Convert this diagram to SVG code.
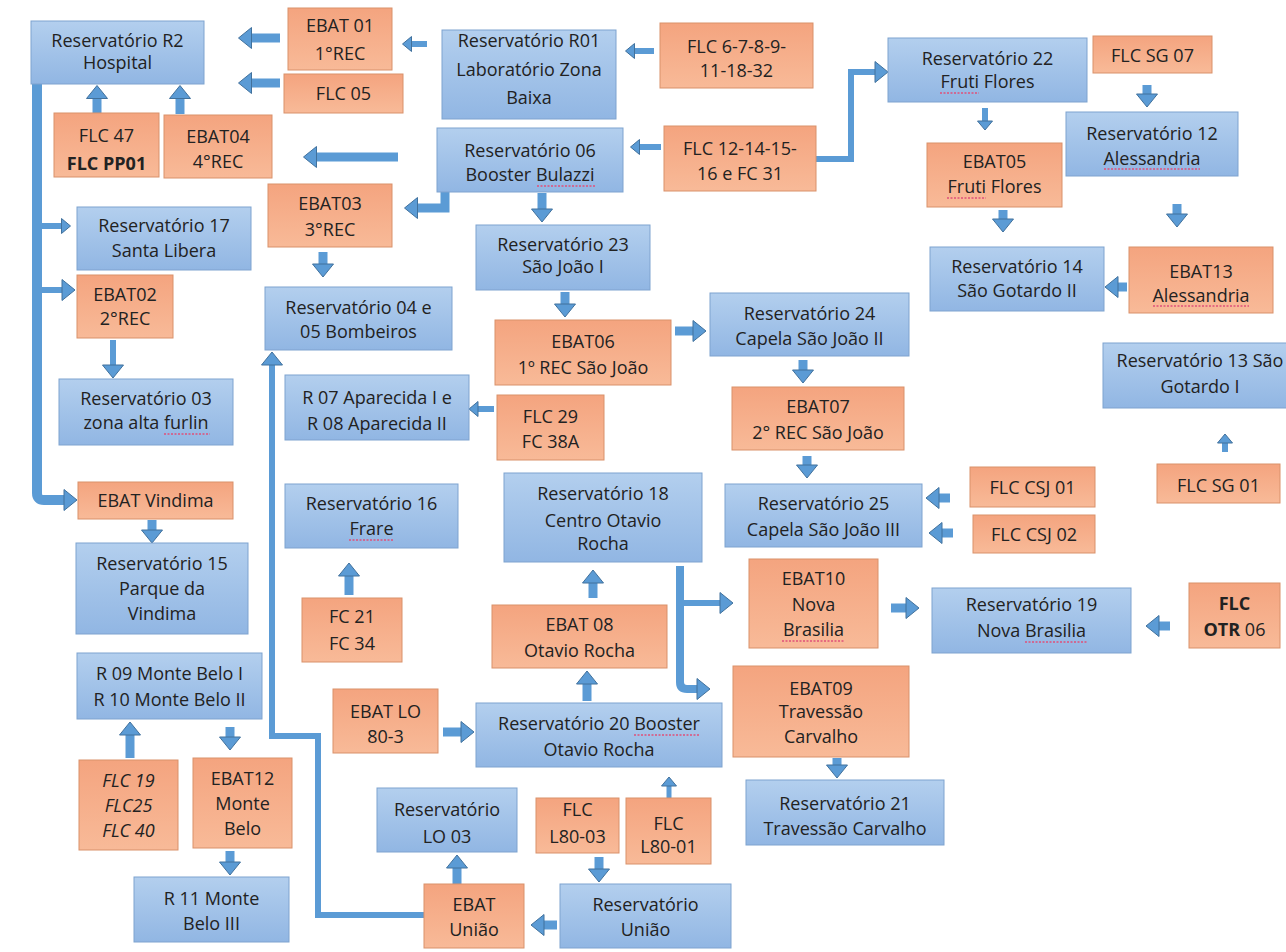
<svg xmlns="http://www.w3.org/2000/svg" width="1286" height="952" viewBox="0 0 1286 952">
<defs>
<linearGradient id="gb" x1="0" y1="0" x2="0" y2="1"><stop offset="0" stop-color="#B3CFEE"/><stop offset="1" stop-color="#91B6E3"/></linearGradient>
<linearGradient id="go" x1="0" y1="0" x2="0" y2="1"><stop offset="0" stop-color="#F4A47F"/><stop offset="1" stop-color="#F8BA98"/></linearGradient>
<marker id="h" markerUnits="userSpaceOnUse" viewBox="-1 -1 15 23" markerWidth="15" markerHeight="23" refX="0.5" refY="10.5" orient="auto"><path d="M0,0 L13,10.5 L0,21 Z" fill="#5B9BD5" stroke="#41719C" stroke-width="1"/></marker>
<marker id="hs" markerUnits="userSpaceOnUse" viewBox="-1 -1 11 17" markerWidth="11" markerHeight="17" refX="0.5" refY="7.5" orient="auto"><path d="M0,0 L9,7.5 L0,15 Z" fill="#5B9BD5" stroke="#41719C" stroke-width="1"/></marker>
</defs>
<style>
.b{fill:url(#gb);stroke:#7EA3CF;stroke-width:1}
.o{fill:url(#go);stroke:#D9916B;stroke-width:1}
text{font-family:"Open Sans","Noto Sans",sans-serif;font-size:18px;fill:#222;text-anchor:middle}
.bd{font-weight:bold}
.it{font-style:italic}
.sp{fill:none;stroke:#E0507A;stroke-width:1.3;stroke-dasharray:2 1.5}
#connectors path{fill:none;stroke:#5B9BD5;stroke-width:9;marker-end:url(#h)}
#connectors path.s{stroke-width:6;marker-end:url(#hs)}
#connectors path.m{stroke-width:6}
</style>
<rect width="1286" height="952" fill="#fff"/>
<g id="connectors">
<path d="M280,38 H251"/>
<path d="M280,83 H251"/>
<path d="M97,113 V98"/>
<path d="M180,114 V98"/>
<path class="s" d="M427,44 H411"/>
<path class="s" d="M654,51 H634"/>
<path class="s" d="M661,147 H639"/>
<path d="M398,157 H316"/>
<path d="M445,192 V208 H417"/>
<path d="M542,193 V209.5"/>
<path d="M565,292 V304.5"/>
<path class="m" d="M816,159 H851 V72 H875.5"/>
<path class="s" d="M985,108 V121.5"/>
<path d="M1147,85 V94.5"/>
<path d="M1003,210 V219.5"/>
<path d="M1177,204 V214.5"/>
<path d="M1127,287 H1117.5"/>
<path class="s" d="M1225,452 V442.5"/>
<path d="M323,252 V264.5"/>
<path style="stroke-width:10" d="M37,84 V493 Q37,500 44,500 H64.5"/>
<path class="s" d="M42,226 H62"/>
<path class="m" d="M42,290 H62.5"/>
<path class="m" d="M113,340 V365.5"/>
<path d="M152,520 V530.5"/>
<path class="m" d="M424,915 H318 V736 H272 V364.5"/>
<path d="M349,595 V575.5"/>
<path class="s" d="M494,409 H477.5"/>
<path d="M675,331 H693.5"/>
<path d="M803,360 V370.5"/>
<path d="M807,456 V465.5"/>
<path d="M950,498 H938.5"/>
<path d="M953,533 H941.5"/>
<path style="stroke-width:8" d="M680,566 V682 Q680,689 687,689 H697.5"/>
<path class="m" d="M684,603 H720.5"/>
<path d="M891,608 H906.5"/>
<path d="M1170,626 H1158.5"/>
<path d="M593,598 V582.5"/>
<path d="M587,701 V683.5"/>
<path d="M443,732 H461.5"/>
<path class="s" style="stroke-width:5" d="M669,798 V785.5"/>
<path d="M599,857 V869.5"/>
<path d="M457,884 V867.5"/>
<path d="M557,925 H543.5"/>
<path d="M130,758 V734.5"/>
<path d="M230,727 V737.5"/>
<path d="M230,851 V862.5"/>
<path d="M837,758 V765.5"/>
</g>

<g id="r2"><rect class="b" x="31" y="21" width="173" height="63"/><text x="117.5" y="47">Reservatório R2</text><text x="117.5" y="69">Hospital</text></g>
<g id="r01"><rect class="b" x="442" y="30" width="174" height="89"/><text x="529" y="47">Reservatório R01</text><text x="529" y="76">Laboratório Zona</text><text x="529" y="104">Baixa</text></g>
<g id="r06"><rect class="b" x="437" y="128" width="186" height="64"/><text x="530" y="157">Reservatório 06</text><text x="530" y="181">Booster Bulazzi</text><path class="sp" d="M537,186 H595"/></g>
<g id="r17"><rect class="b" x="77" y="207" width="174" height="63"/><text x="164" y="232">Reservatório 17</text><text x="164" y="257">Santa Libera</text></g>
<g id="r23"><rect class="b" x="476" y="225" width="174" height="65"/><text x="563" y="251">Reservatório 23</text><text x="563" y="273">São João I</text></g>
<g id="r0405"><rect class="b" x="265" y="287" width="187" height="63"/><text x="358.5" y="314">Reservatório 04 e</text><text x="358.5" y="338">05 Bombeiros</text></g>
<g id="r03"><rect class="b" x="59" y="379" width="174" height="66"/><text x="146" y="405">Reservatório 03</text><text x="146" y="429">zona alta furlin</text><path class="sp" d="M164,434 H210"/></g>
<g id="r0708"><rect class="b" x="285" y="375" width="184" height="65"/><text x="377" y="404">R 07 Aparecida I e</text><text x="377" y="430">R 08 Aparecida II</text></g>
<g id="r22"><rect class="b" x="888" y="38" width="199" height="64"/><text x="987.5" y="65">Reservatório 22</text><text x="987.5" y="88">Fruti Flores</text><path class="sp" d="M940,93 H979"/></g>
<g id="r12"><rect class="b" x="1066" y="112" width="172" height="64"/><text x="1152" y="140">Reservatório 12</text><text x="1152" y="165">Alessandria</text><path class="sp" d="M1104,169 H1200"/></g>
<g id="r14"><rect class="b" x="930" y="247" width="174" height="64"/><text x="1017" y="273">Reservatório 14</text><text x="1017" y="297">São Gotardo II</text></g>
<g id="r24"><rect class="b" x="710" y="293" width="199" height="63"/><text x="809.5" y="320">Reservatório 24</text><text x="809.5" y="345">Capela São João II</text></g>
<g id="r13"><rect class="b" x="1103" y="343" width="195" height="65"/><text x="1200" y="367">Reservatório 13 São</text><text x="1200" y="393">Gotardo I</text></g>
<g id="r25"><rect class="b" x="725" y="484" width="197" height="63"/><text x="823.5" y="510">Reservatório 25</text><text x="823.5" y="536">Capela São João III</text></g>
<g id="r18"><rect class="b" x="504" y="473" width="198" height="89"/><text x="603" y="500">Reservatório 18</text><text x="603" y="527">Centro Otavio</text><text x="603" y="550">Rocha</text></g>
<g id="r16"><rect class="b" x="285" y="484" width="173" height="64"/><text x="371.5" y="510">Reservatório 16</text><text x="371.5" y="535">Frare</text><path class="sp" d="M349,540 H394"/></g>
<g id="r15"><rect class="b" x="76" y="543" width="172" height="91"/><text x="162" y="570">Reservatório 15</text><text x="162" y="595">Parque da</text><text x="162" y="620">Vindima</text></g>
<g id="r19"><rect class="b" x="932" y="588" width="199" height="65"/><text x="1031.5" y="611">Reservatório 19</text><text x="1031.5" y="637">Nova Brasilia</text><path class="sp" d="M1025,642 H1088"/></g>
<g id="r0910"><rect class="b" x="77" y="653" width="185" height="66"/><text x="169.5" y="680">R 09 Monte Belo I</text><text x="169.5" y="706">R 10 Monte Belo II</text></g>
<g id="r20"><rect class="b" x="476" y="703" width="246" height="64"/><text x="599" y="730">Reservatório 20 Booster</text><text x="599" y="756">Otavio Rocha</text><path class="sp" d="M634,735 H700"/></g>
<g id="r21"><rect class="b" x="746" y="780" width="198" height="65"/><text x="845" y="810">Reservatório 21</text><text x="845" y="835">Travessão Carvalho</text></g>
<g id="rlo03"><rect class="b" x="377" y="788" width="140" height="64"/><text x="447" y="816">Reservatório</text><text x="447" y="843">LO 03</text></g>
<g id="r11"><rect class="b" x="134" y="877" width="155" height="65"/><text x="211.5" y="905">R 11 Monte</text><text x="211.5" y="930">Belo III</text></g>
<g id="runiao"><rect class="b" x="560" y="884" width="171" height="64"/><text x="645.5" y="911">Reservatório</text><text x="645.5" y="936">União</text></g>

<g id="ebat01"><rect class="o" x="288" y="8" width="104" height="62"/><text x="340" y="32">EBAT 01</text><text x="340" y="60">1°REC</text></g>
<g id="flc05"><rect class="o" x="284" y="74" width="119" height="39"/><text x="343.5" y="100">FLC 05</text></g>
<g id="flc6"><rect class="o" x="660" y="23" width="153" height="65"/><text x="736.5" y="53">FLC 6-7-8-9-</text><text x="736.5" y="77">11-18-32</text></g>
<g id="flc47"><rect class="o" x="54" y="113" width="105" height="64"/><text x="106.5" y="142">FLC 47</text><text x="106.5" y="170" class="bd">FLC PP01</text></g>
<g id="ebat04"><rect class="o" x="164" y="115" width="108" height="63"/><text x="218" y="143">EBAT04</text><text x="218" y="168">4°REC</text></g>
<g id="flc12"><rect class="o" x="664" y="126" width="152" height="65"/><text x="740" y="155">FLC 12-14-15-</text><text x="740" y="180">16 e FC 31</text></g>
<g id="flcsg07"><rect class="o" x="1093" y="36" width="119" height="37"/><text x="1152.5" y="62">FLC SG 07</text></g>
<g id="ebat05"><rect class="o" x="927" y="143" width="135" height="64"/><text x="994.5" y="168">EBAT05</text><text x="994.5" y="193">Fruti Flores</text><path class="sp" d="M947,198 H986"/></g>
<g id="ebat03"><rect class="o" x="268" y="184" width="124" height="63"/><text x="330" y="210">EBAT03</text><text x="330" y="236">3°REC</text></g>
<g id="ebat13"><rect class="o" x="1129" y="247" width="144" height="66"/><text x="1201" y="278">EBAT13</text><text x="1201" y="302">Alessandria</text><path class="sp" d="M1153,306 H1249"/></g>
<g id="ebat02"><rect class="o" x="77" y="275" width="96" height="63"/><text x="125" y="301">EBAT02</text><text x="125" y="325">2°REC</text></g>
<g id="ebat06"><rect class="o" x="495" y="320" width="176" height="65"/><text x="583" y="348">EBAT06</text><text x="583" y="374">1º REC São João</text></g>
<g id="ebat07"><rect class="o" x="732" y="387" width="172" height="63"/><text x="818" y="413">EBAT07</text><text x="818" y="439">2° REC São João</text></g>
<g id="flc29"><rect class="o" x="497" y="395" width="107" height="65"/><text x="550.5" y="423">FLC 29</text><text x="550.5" y="448">FC 38A</text></g>
<g id="flcsg01"><rect class="o" x="1157" y="464" width="123" height="39"/><text x="1218.5" y="492">FLC SG 01</text></g>
<g id="flccsj01"><rect class="o" x="970" y="467" width="125" height="40"/><text x="1032.5" y="494">FLC CSJ 01</text></g>
<g id="flccsj02"><rect class="o" x="973" y="515" width="122" height="38"/><text x="1034" y="541">FLC CSJ 02</text></g>
<g id="ebatvindima"><rect class="o" x="78" y="482" width="155" height="37"/><text x="155.5" y="507">EBAT Vindima</text></g>
<g id="ebat10"><rect class="o" x="749" y="559" width="129" height="89"/><text x="813.5" y="585">EBAT10</text><text x="813.5" y="611">Nova</text><text x="813.5" y="636">Brasilia</text><path class="sp" d="M782,641 H845"/></g>
<g id="flcotr06"><rect class="o" x="1189" y="583" width="91" height="65"/><text x="1234.5" y="610" class="bd">FLC</text><text x="1234.5" y="636"><tspan class="bd">OTR</tspan> 06</text></g>
<g id="fc21"><rect class="o" x="302" y="598" width="100" height="64"/><text x="352" y="623">FC 21</text><text x="352" y="650">FC 34</text></g>
<g id="ebat08"><rect class="o" x="492" y="605" width="175" height="63"/><text x="579.5" y="631">EBAT 08</text><text x="579.5" y="657">Otavio Rocha</text></g>
<g id="ebat09"><rect class="o" x="733" y="666" width="176" height="91"/><text x="821" y="695">EBAT09</text><text x="821" y="718">Travessão</text><text x="821" y="743">Carvalho</text></g>
<g id="ebatlo"><rect class="o" x="333" y="689" width="105" height="64"/><text x="385.5" y="718">EBAT LO</text><text x="385.5" y="743">80-3</text></g>
<g id="flc19"><rect class="o" x="79" y="760" width="99" height="90"/><text x="128.5" y="787" class="it">FLC 19</text><text x="128.5" y="812" class="it">FLC25</text><text x="128.5" y="837" class="it">FLC 40</text></g>
<g id="ebat12"><rect class="o" x="193" y="758" width="99" height="90"/><text x="242.5" y="785">EBAT12</text><text x="242.5" y="810">Monte</text><text x="242.5" y="835">Belo</text></g>
<g id="flcl8003"><rect class="o" x="536" y="798" width="83" height="55"/><text x="577.5" y="816">FLC</text><text x="577.5" y="843">L80-03</text></g>
<g id="flcl8001"><rect class="o" x="626" y="798" width="85" height="66"/><text x="668.5" y="830">FLC</text><text x="668.5" y="853">L80-01</text></g>
<g id="ebatuniao"><rect class="o" x="424" y="884" width="100" height="64"/><text x="474" y="911">EBAT</text><text x="474" y="936">União</text></g>
</svg>
